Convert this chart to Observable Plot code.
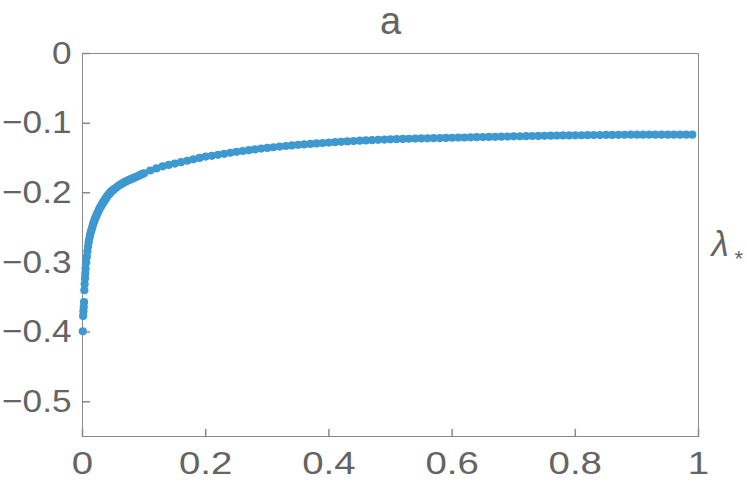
<!DOCTYPE html>
<html><head><meta charset="utf-8">
<script src="https://cdn.jsdelivr.net/npm/d3@7"></script>
<script src="https://cdn.jsdelivr.net/npm/@observablehq/plot@0.6"></script>
<style>body{margin:0;background:#fff;} #chart svg{display:block;}</style>
</head><body><div id="chart"></div>
<script>
const xVals = [
  0.0005, 0.001, 0.0015, 0.002, 0.0025, 0.003, 0.0035, 0.004, 0.0045, 0.005,
  0.006, 0.007, 0.008, 0.009,
  0.010, 0.011, 0.012, 0.013, 0.014, 0.015, 0.016, 0.017, 0.018, 0.019,
  0.020, 0.021, 0.022, 0.023, 0.024, 0.025, 0.026, 0.027, 0.028, 0.029,
  0.030, 0.031, 0.032, 0.033, 0.034, 0.035, 0.036, 0.037, 0.038, 0.039,
  0.040, 0.041, 0.042, 0.043, 0.044, 0.045, 0.046, 0.047, 0.048, 0.049,
  0.050, 0.0525, 0.055, 0.0575, 0.060, 0.0625, 0.065, 0.0675, 0.070, 0.0725,
  0.075, 0.0775, 0.080, 0.0825, 0.085, 0.0875, 0.090, 0.0925, 0.095, 0.0975,
  0.10,
  0.11, 0.12, 0.13, 0.14, 0.15, 0.16, 0.17, 0.18, 0.19, 0.20,
  0.21, 0.22, 0.23, 0.24, 0.25, 0.26, 0.27, 0.28, 0.29, 0.30,
  0.31, 0.32, 0.33, 0.34, 0.35, 0.36, 0.37, 0.38, 0.39, 0.40,
  0.41, 0.42, 0.43, 0.44, 0.45, 0.46, 0.47, 0.48, 0.49, 0.50,
  0.51, 0.52, 0.53, 0.54, 0.55, 0.56, 0.57, 0.58, 0.59, 0.60,
  0.61, 0.62, 0.63, 0.64, 0.65, 0.66, 0.67, 0.68, 0.69, 0.70,
  0.71, 0.72, 0.73, 0.74, 0.75, 0.76, 0.77, 0.78, 0.79, 0.80,
  0.81, 0.82, 0.83, 0.84, 0.85, 0.86, 0.87, 0.88, 0.89, 0.90,
  0.91, 0.92, 0.93, 0.94, 0.95, 0.96, 0.97, 0.98, 0.99
];
const yVals = [
  -0.399, -0.377, -0.370, -0.364, -0.357, -0.340, -0.331, -0.323, -0.316, -0.309,
  -0.300, -0.292, -0.284, -0.277,
  -0.271, -0.266, -0.262, -0.258, -0.255, -0.252, -0.249, -0.246, -0.243, -0.241,
  -0.238, -0.236, -0.234, -0.232, -0.230, -0.228, -0.226, -0.224, -0.222, -0.221,
  -0.219, -0.218, -0.216, -0.215, -0.213, -0.212, -0.211, -0.209, -0.208, -0.207,
  -0.205, -0.204, -0.203, -0.202, -0.201, -0.200, -0.199, -0.198, -0.197, -0.1965,
  -0.196, -0.194, -0.1925, -0.1908, -0.189, -0.1877, -0.1864, -0.1852, -0.184, -0.1829,
  -0.1819, -0.1809, -0.180, -0.179, -0.178, -0.177, -0.176, -0.175, -0.174, -0.173,
  -0.172,
  -0.168, -0.165, -0.162, -0.160, -0.158, -0.156, -0.154, -0.152, -0.150, -0.148,
  -0.147, -0.1455, -0.144, -0.1425, -0.1412, -0.1400, -0.1388, -0.1377, -0.1366, -0.1356,
  -0.1346, -0.1337, -0.1328, -0.1320, -0.1312, -0.1305, -0.1298, -0.1291, -0.1285, -0.1279,
  -0.1273, -0.1267, -0.1262, -0.1257, -0.1252, -0.1248, -0.1244, -0.1240, -0.1236, -0.1233,
  -0.1230, -0.1227, -0.1224, -0.1222, -0.1220, -0.1218, -0.1216, -0.1214, -0.1212, -0.1210,
  -0.1208, -0.1206, -0.1204, -0.1202, -0.1200, -0.1198, -0.1196, -0.1194, -0.1192, -0.1190,
  -0.1188, -0.1187, -0.1185, -0.1183, -0.1182, -0.1180, -0.1179, -0.1177, -0.1176, -0.1175,
  -0.1174, -0.1173, -0.1172, -0.1171, -0.1170, -0.1169, -0.1168, -0.1167, -0.1166, -0.1166,
  -0.1166, -0.1165, -0.1165, -0.1165, -0.1165, -0.1165, -0.1165, -0.1165, -0.1165
];
const xTicks = [0, 0.2, 0.4, 0.6, 0.8, 1];
const yTicks = [0, -0.1, -0.2, -0.3, -0.4, -0.5];
const titleText = "a";
const yLabelMain = "λ";
const yLabelSub = "*";

const data = xVals.map((x, i) => ({x, y: yVals[i]}));
const textColor = "#646464";
const frameColor = "#8a8a8a";
const dotColor = "#3d99d0";
const fontFamily = "'Liberation Sans', Arial, sans-serif";
const fmt = d => d === 0 ? "0" : (d < 0 ? "\u2212" + String(Math.abs(d)) : String(d));
const tickShape = {draw(ctx, l) { ctx.moveTo(0, 0); ctx.lineTo(0, -l); }};

const chart = Plot.plot({
  width: 747,
  height: 486,
  marginLeft: 82,
  marginRight: 49,
  marginTop: 53,
  marginBottom: 50,
  style: {fontFamily, background: "#fff"},
  x: {domain: [0, 1]},
  y: {domain: [-0.55, 0]},
  marks: [
    Plot.frame({stroke: frameColor, strokeWidth: 1}),
    Plot.vector(xTicks, {x: d => d, frameAnchor: "bottom", length: 7, rotate: 0, anchor: "start", shape: tickShape, stroke: frameColor}),
    Plot.vector(yTicks, {y: d => d, frameAnchor: "left", length: 7, rotate: 90, anchor: "start", shape: tickShape, stroke: frameColor}),
    Plot.axisX(xTicks, {tickSize: 0, tickPadding: 15, fontSize: 32, fill: textColor, tickFormat: fmt, label: null}),
    Plot.axisY(yTicks, {tickSize: 0, tickPadding: 11, fontSize: 32, fill: textColor, tickFormat: fmt, label: null}),
    Plot.dot(data, {x: "x", y: "y", r: 4.1, fill: dotColor, stroke: null}),
    Plot.text([titleText], {text: d => d, frameAnchor: "top", dy: -20, lineAnchor: "bottom", fontSize: 38, fill: textColor}),
    Plot.text([yLabelMain], {text: d => d, frameAnchor: "right", dx: 13, textAnchor: "start", fontSize: 35, fontStyle: "italic", fill: textColor}),
    Plot.text([yLabelSub], {text: d => d, frameAnchor: "right", dx: 36, dy: 14, textAnchor: "start", fontSize: 22, fill: textColor})
  ]
});
document.getElementById("chart").appendChild(chart);
d3.select(chart).selectAll("g[aria-label='x-axis tick label'] text")
  .attr("transform", function() { return (this.getAttribute("transform") || "") + " scale(1.2,1)"; });
d3.select(chart).selectAll("g[aria-label='y-axis tick label'] text")
  .attr("transform", function() { return (this.getAttribute("transform") || "") + " scale(1.1,1)"; });
</script>
</body></html>
